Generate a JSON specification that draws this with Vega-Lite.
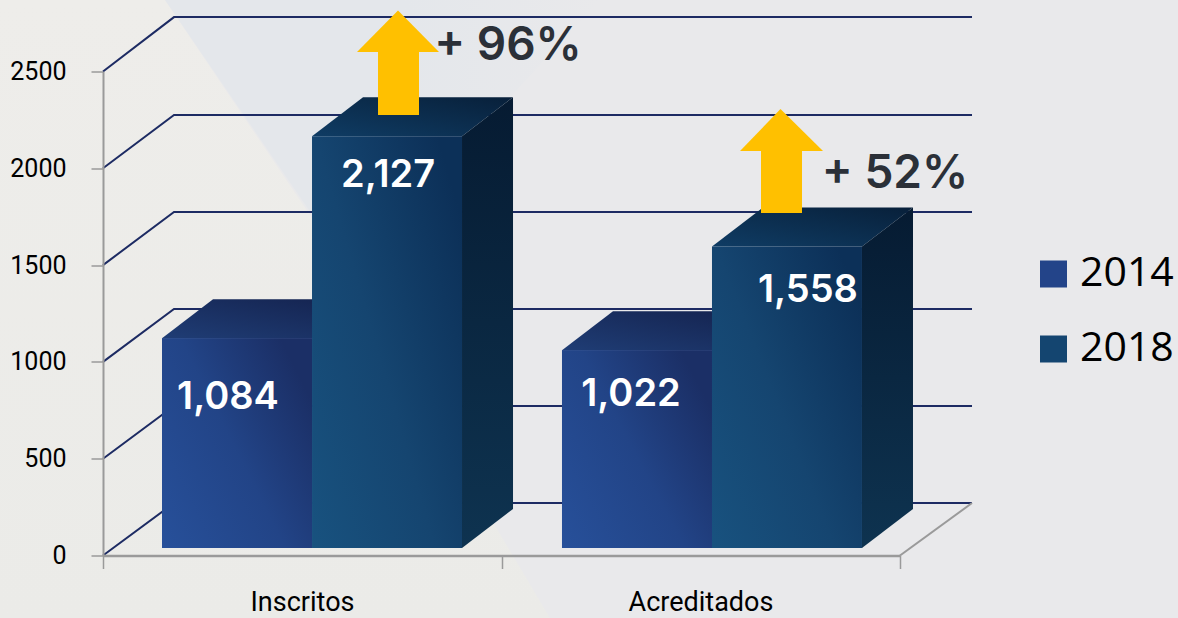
{
"$schema":"https://vega.github.io/schema/vega-lite/v6.json",
"autosize":{"type":"none"},
"padding":{"left":103,"top":71.5,"right":278,"bottom":62.5},
"width":797,"height":484,
"background":"#e9e9eb",
"config":{"view":{"stroke":null}},
"datasets":{
"warm":[{"x":-0.2585,"y":2869,"y2":-323},{"x":0.1556,"y":2869,"y2":-323},{"x":0.5194,"y":1759,"y2":-323},{"x":1.1217,"y":-323,"y2":-323}],
"blue":[{"x":0.1556,"y":2869,"y2":2869},{"x":0.6198,"y":2869,"y2":1475},{"x":1.2472,"y":2869,"y2":2869}],
"wall":[
{"g":"0","o":1,"x":0,"y":0},{"g":"0","o":2,"x":0.1782,"y":271},{"g":"0","o":3,"x":2.1807,"y":271},
{"g":"500","o":1,"x":0,"y":500},{"g":"500","o":2,"x":0.1782,"y":772},{"g":"500","o":3,"x":2.1807,"y":772},
{"g":"1000","o":1,"x":0,"y":1000},{"g":"1000","o":2,"x":0.1782,"y":1273},{"g":"1000","o":3,"x":2.1807,"y":1273},
{"g":"1500","o":1,"x":0,"y":1500},{"g":"1500","o":2,"x":0.1782,"y":1774},{"g":"1500","o":3,"x":2.1807,"y":1774},
{"g":"2000","o":1,"x":0,"y":2000},{"g":"2000","o":2,"x":0.1782,"y":2275},{"g":"2000","o":3,"x":2.1807,"y":2275},
{"g":"2500","o":1,"x":0,"y":2500},{"g":"2500","o":2,"x":0.1782,"y":2781},{"g":"2500","o":3,"x":2.1807,"y":2781}],
"floor":[{"o":1,"x":2,"y":0},{"o":2,"x":2.1807,"y":271}],
"bars":[
{"cat":"Inscritos","series":"2014","value":1084,"x":0.1481,"x2":0.5245,"y":1122.7,"y2":38.7},
{"cat":"Acreditados","series":"2014","value":1022,"x":1.1518,"x2":1.5282,"y":1060.7,"y2":38.7},
{"cat":"Inscritos","series":"2018","value":2127,"x":0.5245,"x2":0.9009,"y":2165.7,"y2":38.7},
{"cat":"Acreditados","series":"2018","value":1558,"x":1.5282,"x2":1.9046,"y":1596.7,"y2":38.7}],
"tops":[
{"g":"I14","series":"2014","x":0.1481,"x2":0.5245,"y":1122.7},{"g":"I14","series":"2014","x":0.2761,"x2":0.6525,"y":1324.1},
{"g":"A14","series":"2014","x":1.1518,"x2":1.5282,"y":1060.7},{"g":"A14","series":"2014","x":1.2798,"x2":1.6562,"y":1262.1},
{"g":"I18","series":"2018","x":0.5245,"x2":0.9009,"y":2165.7},{"g":"I18","series":"2018","x":0.6525,"x2":1.0289,"y":2367.1},
{"g":"A18","series":"2018","x":1.5282,"x2":1.9046,"y":1596.7},{"g":"A18","series":"2018","x":1.6562,"x2":2.0326,"y":1798.1}],
"sides":[
{"g":"I18","x":0.9009,"y":2165.7,"y2":38.7},{"g":"I18","x":1.0289,"y":2367.1,"y2":240.1},
{"g":"A18","x":1.9046,"y":1596.7,"y2":38.7},{"g":"A18","x":2.0326,"y":1798.1,"y2":240.1}],
"shafts":[{"x":0.6901,"x2":0.7930,"y":2600.6,"y2":2275},{"x":1.6512,"x2":1.7541,"y":2089,"y2":1769}],
"heads":[
{"g":"a","x":0.7403,"x2":0.7403,"y":2815},{"g":"a","x":0.6374,"x2":0.8432,"y":2600.6},
{"g":"b","x":1.7001,"x2":1.7001,"y":2306},{"g":"b","x":1.5985,"x2":1.8068,"y":2089}],
"valueLabels":[
{"x":0.3137,"y":812,"t":"1,084"},{"x":0.7152,"y":1958,"t":"2,127"},
{"x":1.325,"y":828,"t":"1,022"},{"x":1.769,"y":1364,"t":"1,558"}],
"growth":[{"x":1.0163,"y":2632,"t":"+ 96%"},{"x":1.9875,"y":1971,"t":"+ 52%"}]
},
"encoding":{
"x":{"field":"x","type":"quantitative","title":null,"scale":{"domain":[0,2],"nice":false,"zero":false},
"axis":{"values":[0,1,2],"grid":false,"zindex":1,"domainColor":"#9a9a9a","domainWidth":2.5,"tickColor":"#9a9a9a","tickWidth":1.5,"tickSize":13,
"labelExpr":"datum.value==0?'Inscritos':datum.value==1?'Acreditados':''","labelOffset":199,"labelAlign":"center","labelFlush":false,"labelOverlap":false,"labelFont":"Roboto","labelFontSize":27,"labelColor":"#000000","labelPadding":21}},
"y":{"field":"y","type":"quantitative","title":null,"scale":{"domain":[0,2500],"nice":false,"zero":false},
"axis":{"values":[0,500,1000,1500,2000,2500],"grid":false,"zindex":1,"format":"d","domainColor":"#9a9a9a","domainWidth":2,"tickColor":"#9a9a9a","tickWidth":1.5,"tickSize":12,"labelFont":"Roboto","labelFontSize":25,"labelColor":"#000000","labelPadding":25}}
},
"layer":[
{"data":{"name":"warm"},"mark":{"type":"area","orient":"vertical","color":{"gradient":"linear","x1":0,"y1":0,"x2":0,"y2":1,"stops":[{"offset":0,"color":"#eeedea"},{"offset":1,"color":"#ebebe8"}]}},"encoding":{"y2":{"field":"y2"}}},
{"data":{"name":"blue"},"mark":{"type":"area","orient":"vertical","color":{"gradient":"linear","x1":0,"y1":0,"x2":1,"y2":0,"stops":[{"offset":0,"color":"#e4e7eb"},{"offset":0.55,"color":"#e4e7eb"},{"offset":1,"color":"#e9e9eb"}]}},"encoding":{"y2":{"field":"y2"}}},
{"data":{"name":"wall"},"mark":{"type":"line","color":"#1d2b63","strokeWidth":2},"encoding":{"detail":{"field":"g"},"order":{"field":"o"}}},
{"data":{"name":"floor"},"mark":{"type":"line","color":"#9a9a9a","strokeWidth":2},"encoding":{"order":{"field":"o"}}},
{"data":{"name":"tops"},"transform":[{"filter":"datum.series=='2014'"}],"mark":{"type":"area","orient":"horizontal","color":{"gradient":"linear","x1":0,"y1":1,"x2":1,"y2":0,"stops":[{"offset":0,"color":"#1f3d75"},{"offset":1,"color":"#14224e"}]}},"encoding":{"x2":{"field":"x2"},"detail":{"field":"g"}}},
{"data":{"name":"bars"},"mark":{"type":"rect"},"transform":[{"filter":"datum.series=='2014'"}],"encoding":{"x2":{"field":"x2"},"y2":{"field":"y2"},"color":{"field":"series","type":"nominal","scale":{"domain":["2014","2018"],"range":["#234489","#144570"]},
"legend":{"title":null,"orient":"none","legendX":930,"legendY":182,"symbolType":"square","symbolSize":729,"symbolStrokeWidth":0,"labelFont":"Open Sans","labelFontSize":41,"labelColor":"#000000","labelOffset":6,"rowPadding":33,"values":["2014","2018"],
"encode":{"symbols":{"update":{"fill":{"signal":"datum.value=='2014'?{gradient:'linear',x1:0,y1:1,x2:1,y2:0,stops:[{offset:0,color:'#2a5298'},{offset:1,color:'#1c2f66'}]}:{gradient:'linear',x1:0,y1:1,x2:1,y2:0,stops:[{offset:0,color:'#185184'},{offset:1,color:'#0c2f55'}]}"},"stroke":{"value":"transparent"}}}}}}}},
{"data":{"name":"bars"},"transform":[{"filter":"datum.series=='2014'"}],"mark":{"type":"rect","color":{"gradient":"linear","x1":0,"y1":1,"x2":1,"y2":0.3,"stops":[{"offset":0,"color":"#27509a"},{"offset":0.55,"color":"#224487"},{"offset":1,"color":"#1b2f66"}]}},"encoding":{"x2":{"field":"x2"},"y2":{"field":"y2"}}},
{"data":{"name":"tops"},"transform":[{"filter":"datum.series=='2018'"}],"mark":{"type":"area","orient":"horizontal","color":{"gradient":"linear","x1":0,"y1":1,"x2":1,"y2":0,"stops":[{"offset":0,"color":"#0f3c64"},{"offset":1,"color":"#08203a"}]}},"encoding":{"x2":{"field":"x2"},"detail":{"field":"g"}}},
{"data":{"name":"sides"},"mark":{"type":"area","orient":"vertical","color":{"gradient":"linear","x1":0,"y1":1,"x2":0,"y2":0,"stops":[{"offset":0,"color":"#0e3350"},{"offset":1,"color":"#061b32"}]}},"encoding":{"y2":{"field":"y2"},"detail":{"field":"g"}}},
{"data":{"name":"bars"},"transform":[{"filter":"datum.series=='2018'"}],"mark":{"type":"rect","color":{"gradient":"linear","x1":0,"y1":1,"x2":1,"y2":0.2,"stops":[{"offset":0,"color":"#18527f"},{"offset":0.5,"color":"#154570"},{"offset":1,"color":"#0c3058"}]}},"encoding":{"x2":{"field":"x2"},"y2":{"field":"y2"}}},
{"data":{"name":"shafts"},"mark":{"type":"rect","color":"#ffc000"},"encoding":{"x2":{"field":"x2"},"y2":{"field":"y2"}}},
{"data":{"name":"heads"},"mark":{"type":"area","orient":"horizontal","color":"#ffc000"},"encoding":{"x2":{"field":"x2"},"detail":{"field":"g"}}},
{"data":{"name":"valueLabels"},"mark":{"type":"text","font":"Inter","fontWeight":600,"fontSize":38,"color":"#ffffff","align":"center","baseline":"middle"},"encoding":{"text":{"field":"t"}}},
{"data":{"name":"growth"},"mark":{"type":"text","font":"Inter","fontWeight":600,"fontSize":46,"color":"#2b3038","align":"center","baseline":"middle"},"encoding":{"text":{"field":"t"}}}
]
}
